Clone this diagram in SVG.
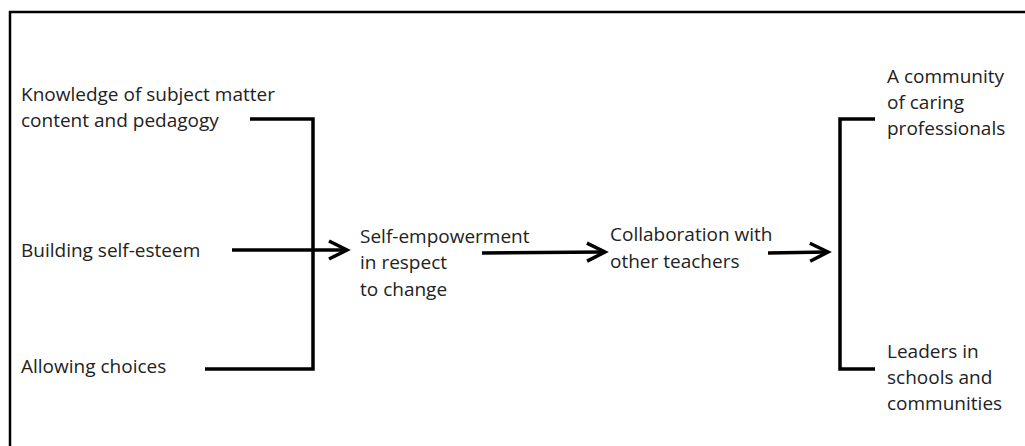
<svg xmlns="http://www.w3.org/2000/svg" width="1025" height="446" viewBox="0 0 1025 446">
  <style>
    .t { font-family: "Open Sans", "Liberation Sans", sans-serif; font-size: 19px; fill: #222; }
    .c { fill: none; stroke: #000; stroke-width: 3.5; }
    .frame { fill: none; stroke: #000; stroke-width: 2.5; }
  </style>
  <defs>
    <marker id="chev" markerUnits="userSpaceOnUse" markerWidth="30" markerHeight="30" viewBox="-4 -4 30 30" refX="17" refY="9" orient="auto">
      <path d="M0,0 L18,9 L0,18" fill="none" stroke="#000" stroke-width="3.5"/>
    </marker>
  </defs>
  <rect width="1025" height="446" fill="#fff"/>
  <path class="frame" d="M10,450 L10,12 L1030,12"/>

  <g id="connectors">
    <path class="c" d="M250,119 L313,119 L313,369 L205,369"/>
    <path class="c" d="M232,250 L346,250" marker-end="url(#chev)"/>
    <path class="c" d="M482,253 L604,252" marker-end="url(#chev)"/>
    <path class="c" d="M768,253 L827,252" marker-end="url(#chev)"/>
    <path class="c" d="M875,119 L840,119 L840,369 L875,369"/>
  </g>

  <g id="knowledge">
    <text class="t" x="21" y="101">Knowledge of subject matter</text>
    <text class="t" x="21" y="127">content and pedagogy</text>
  </g>
  <g id="self-esteem">
    <text class="t" x="21" y="257">Building self-esteem</text>
  </g>
  <g id="choices">
    <text class="t" x="21" y="373">Allowing choices</text>
  </g>
  <g id="self-empowerment">
    <text class="t" x="360" y="243">Self-empowerment</text>
    <text class="t" x="360" y="269">in respect</text>
    <text class="t" x="360" y="296">to change</text>
  </g>
  <g id="collaboration">
    <text class="t" x="610" y="241">Collaboration with</text>
    <text class="t" x="610" y="268">other teachers</text>
  </g>
  <g id="community">
    <text class="t" x="887" y="83">A community</text>
    <text class="t" x="887" y="109">of caring</text>
    <text class="t" x="887" y="135">professionals</text>
  </g>
  <g id="leaders">
    <text class="t" x="887" y="358">Leaders in</text>
    <text class="t" x="887" y="384">schools and</text>
    <text class="t" x="887" y="410">communities</text>
  </g>
</svg>
